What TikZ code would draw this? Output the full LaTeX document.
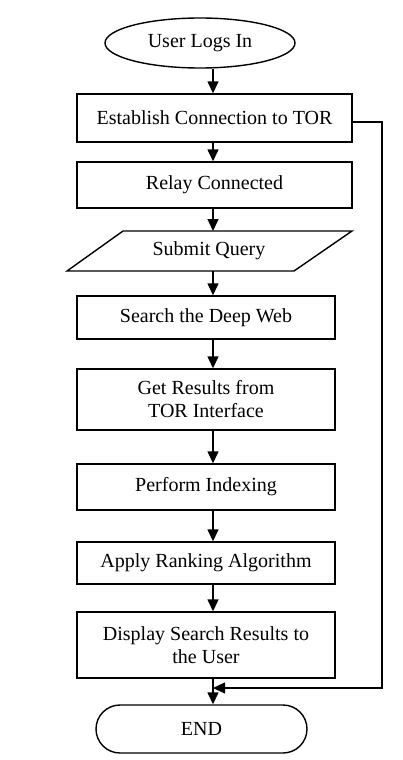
\documentclass[tikz,border=0pt]{standalone}
\usepackage{fontspec}
\setmainfont{Liberation Serif}
\usetikzlibrary{arrows.meta,shapes.geometric}
\begin{document}
\begin{tikzpicture}[x=1pt,y=-1pt,
  every node/.style={font=\fontsize{20}{23}\selectfont, align=center, inner sep=0pt},
  boxnode/.style={draw, line width=1.4pt, rectangle},
  arr/.style={line width=1.4pt, -{Triangle[length=12pt,width=11pt]}},
  side/.style={line width=1.2pt, -{Triangle[length=12pt,width=11pt]}}]
\useasboundingbox (0,0) rectangle (402,760);
\coordinate (ax) at (213,0);
\coordinate (rt) at (382,0);
\coordinate (join) at (213,688);
\node[draw, ellipse, line width=1.4pt, minimum width=190pt, minimum height=50pt] (start) at (200,43) {User Logs In};
\node[boxnode, minimum width=275pt, minimum height=48pt] (b1) at (214.5,118) {Establish Connection to TOR};
\node[boxnode, minimum width=275pt, minimum height=46pt] (b2) at (214.5,185) {Relay Connected};
\node[minimum width=170pt, minimum height=40pt] (q) at (209,251) {Submit Query};
\draw[line width=1.4pt] (123,231) -- (352,231) -- (294,271) -- (67,271) -- cycle;
\node[boxnode, minimum width=258pt, minimum height=43pt] (b3) at (206,317.5) {Search the Deep Web};
\node[boxnode, minimum width=258pt, minimum height=61pt] (b4) at (206,399.5) {Get Results from\\TOR Interface};
\node[boxnode, minimum width=258pt, minimum height=46pt] (b5) at (206,487) {Perform Indexing};
\node[boxnode, minimum width=258pt, minimum height=42pt] (b6) at (206,563) {Apply Ranking Algorithm};
\node[boxnode, minimum width=258pt, minimum height=66pt] (b7) at (206,645) {Display Search Results to\\the User};
\node[draw, line width=1.4pt, rounded corners=24pt, minimum width=211pt, minimum height=48pt] (end) at (201.5,729) {END};
\draw[arr] (start.south -| ax) -- (b1.north -| ax);
\draw[arr] (b1.south -| ax) -- (b2.north -| ax);
\draw[arr] (b2.south -| ax) -- (ax |- 231,231);
\draw[arr] (ax |- 271,271) -- (b3.north -| ax);
\draw[arr] (b3.south -| ax) -- (b4.north -| ax);
\draw[arr] (b4.south -| ax) -- (b5.north -| ax);
\draw[arr] (b5.south -| ax) -- (b6.north -| ax);
\draw[arr] (b6.south -| ax) -- (b7.north -| ax);
\draw[arr] (b7.south -| ax) -- (end.north -| ax);
\draw[side] (b1.east |- 0,122) -- (rt |- 0,122) -- (rt |- join) -- (join);
\end{tikzpicture}
\end{document}
